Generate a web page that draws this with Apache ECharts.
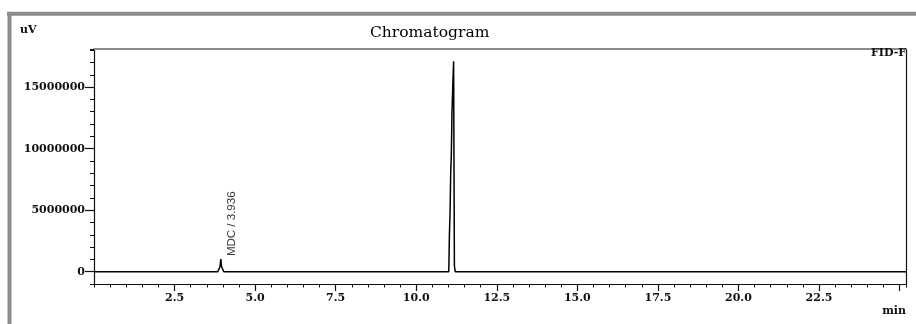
<!DOCTYPE html>
<html>
<head>
<meta charset="utf-8">
<script src="https://cdn.jsdelivr.net/npm/echarts@6/dist/echarts.min.js"></script>
<style>
html,body{margin:0;padding:0;background:#fff;}
#chart{width:916px;height:324px;}
</style>
</head>
<body>
<div id="chart"></div>
<script>
// ---- data ----
var timeMin = [0, 3.5, 3.84, 3.91, 3.936, 3.96, 4.03, 4.6,
               10.5, 11.01, 11.03, 11.05, 11.07, 11.09, 11.11, 11.14, 11.16, 11.17, 11.185, 11.21, 11.8, 25.2];
var signalUV = [0, 0, 0, 400000, 1030000, 400000, 0, 0,
                0, 0, 3000000, 4800000, 8000000, 9500000, 13000000, 15500000, 17100000, 17050000, 500000, 0, 0, 0];
var peakNames = ['MDC / 3.936'];
var peakTimes = [3.936];
var peakHeights = [1030000];
var xTickLabels = [2.5, 5.0, 7.5, 10.0, 12.5, 15.0, 17.5, 20.0, 22.5];
var xMajorTicks = [2.5, 5.0, 7.5, 10.0, 12.5, 15.0, 17.5, 20.0, 22.5, 25.0];
var yTickLabels = [0, 5000000, 10000000, 15000000];
var xMin = 0, xMax = 25.2, yMin = -1000000, yMax = 18100000;

var lineData = timeMin.map(function (t, i) { return [t, signalUV[i]]; });
var peakData = peakTimes.map(function (t, i) { return { value: [t, peakHeights[i]], name: peakNames[i] }; });

var serif = '"DejaVu Serif", "Liberation Serif", serif';
var chart = echarts.init(document.getElementById('chart'), null, { renderer: 'canvas' });
chart.setOption({
  animation: false,
  backgroundColor: '#ffffff',
  title: [
    { text: 'Chromatogram', left: 370, top: 25, padding: 0, textStyle: { fontFamily: serif, fontSize: 15.5, fontWeight: 'normal', color: '#000' } },
    { text: 'uV', left: 20, top: 25, padding: 0, textStyle: { fontFamily: serif, fontSize: 11, fontWeight: 'bold', color: '#111' } },
    { text: 'FID-F', right: 10, top: 48, padding: 0, textStyle: { fontFamily: serif, fontSize: 11, fontWeight: 'bold', color: '#111' } },
    { text: 'min', right: 10, top: 306, padding: 0, textStyle: { fontFamily: serif, fontSize: 11, fontWeight: 'bold', color: '#111' } }
  ],
  graphic: [
    { type: 'line', shape: { x1: 7, y1: 13.8, x2: 916, y2: 13.8 }, style: { stroke: '#8c8c8c', lineWidth: 4 } },
    { type: 'line', shape: { x1: 9.5, y1: 12, x2: 9.5, y2: 324 }, style: { stroke: '#8c8c8c', lineWidth: 4 } }
  ],
  grid: { left: 94, right: 10, top: 49, bottom: 40, outerBoundsMode: 'none', containLabel: false },
  xAxis: [
    {
      type: 'value', min: xMin, max: xMax, position: 'bottom',
      axisLine: { show: true, onZero: false, lineStyle: { color: '#111', width: 1.2 } },
      axisTick: { show: true, inside: false, length: 7, customValues: xMajorTicks, lineStyle: { color: '#111', width: 1.2 } },
      axisLabel: { show: true, customValues: xTickLabels, margin: 9, fontFamily: serif, fontSize: 11, fontWeight: 'bold', color: '#111',
                   formatter: function (v) { return Number(v).toFixed(1); } },
      splitLine: { show: false }
    },
    {
      type: 'value', min: xMin, max: xMax, interval: 0.5, position: 'bottom',
      axisLine: { show: false, onZero: false },
      axisTick: { show: true, inside: false, length: 3.5, lineStyle: { color: '#111', width: 1 } },
      axisLabel: { show: false },
      splitLine: { show: false }
    },
    {
      type: 'value', min: xMin, max: xMax, position: 'top',
      axisLine: { show: true, onZero: false, lineStyle: { color: '#8c8c8c', width: 2 } },
      axisTick: { show: false }, axisLabel: { show: false }, splitLine: { show: false }
    }
  ],
  yAxis: [
    {
      type: 'value', min: yMin, max: yMax, position: 'left',
      axisLine: { show: true, onZero: false, lineStyle: { color: '#111', width: 1.2 } },
      axisTick: { show: true, inside: false, length: 9, customValues: yTickLabels, lineStyle: { color: '#111', width: 1.2 } },
      axisLabel: { show: true, customValues: yTickLabels, margin: 9, fontFamily: serif, fontSize: 11, fontWeight: 'bold', color: '#111',
                   formatter: function (v) { return String(v); } },
      splitLine: { show: false }
    },
    {
      type: 'value', min: yMin, max: yMax, interval: 1000000, position: 'left',
      axisLine: { show: false, onZero: false },
      axisTick: { show: true, inside: false, length: 4, lineStyle: { color: '#111', width: 1 } },
      axisLabel: { show: false }, splitLine: { show: false }
    },
    {
      type: 'value', min: yMin, max: yMax, position: 'right',
      axisLine: { show: true, onZero: false, lineStyle: { color: '#111', width: 1.2 } },
      axisTick: { show: false }, axisLabel: { show: false }, splitLine: { show: false }
    }
  ],
  series: [
    {
      type: 'line', xAxisIndex: 0, yAxisIndex: 0, data: lineData,
      showSymbol: false, symbol: 'none', smooth: false,
      lineStyle: { color: '#000', width: 1.5 }
    },
    {
      type: 'scatter', xAxisIndex: 0, yAxisIndex: 0, data: peakData,
      symbolSize: 1, itemStyle: { color: 'rgba(0,0,0,0)' },
      label: {
        show: true, position: 'right', distance: 11, rotate: 90, offset: [3, 0],
        formatter: function (p) { return p.name; },
        fontFamily: '"Liberation Sans", Arial, sans-serif', fontSize: 11.5, color: '#000'
      }
    }
  ]
});
</script>
</body>
</html>
